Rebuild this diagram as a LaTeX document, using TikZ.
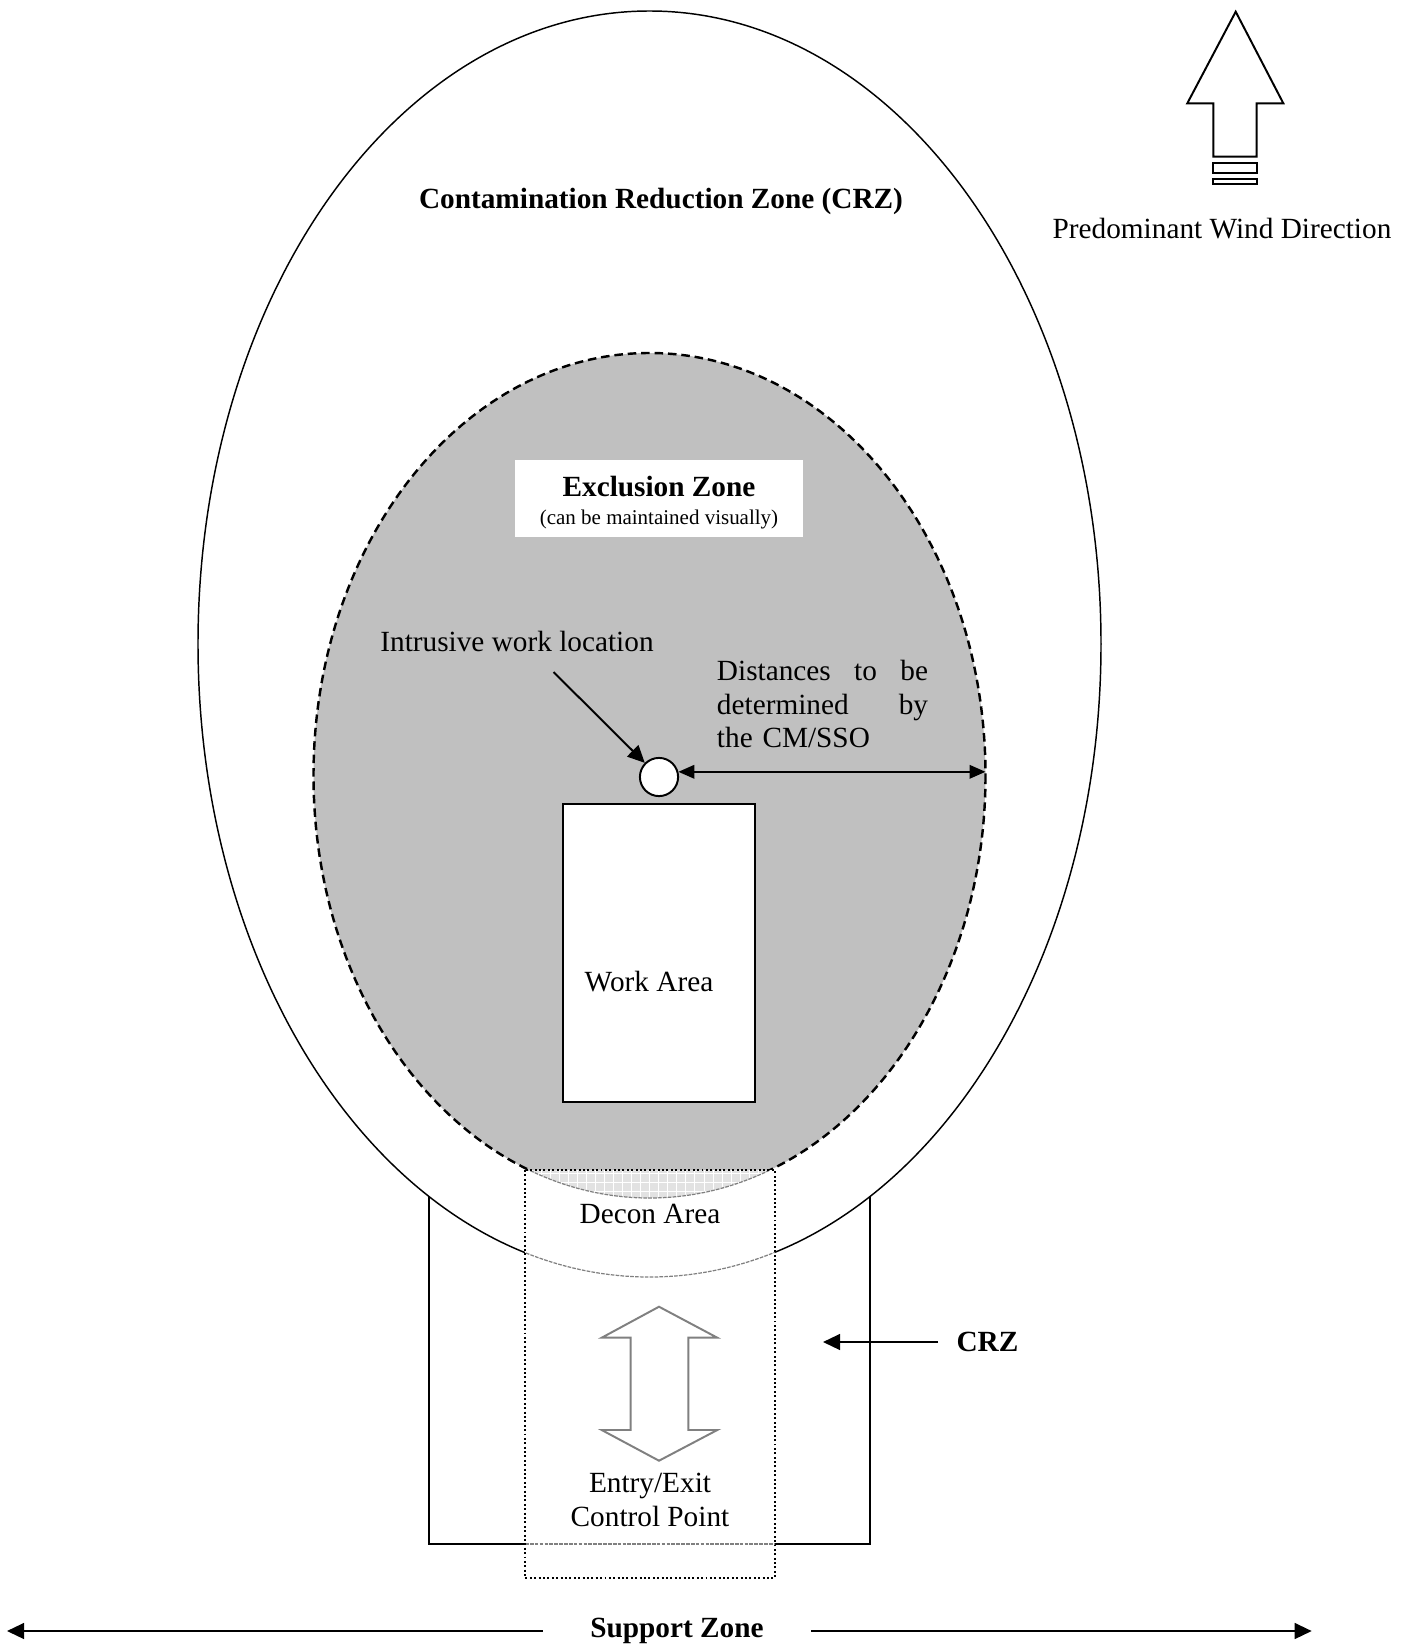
\documentclass[tikz,border=0pt]{standalone}
\usepackage{fontspec}
\setmainfont{Liberation Serif}
\usetikzlibrary{arrows.meta}
\definecolor{exgray}{HTML}{C0C0C0}
\definecolor{decongray}{HTML}{E2E2E2}
\tikzset{
zoneline/.style={draw, line width=0.6pt},
exline/.style={draw, line width=1pt, dash pattern=on 3.5pt off 2pt},
fadeline/.style={draw=gray, line width=0.5pt, dash pattern=on 1.5pt off 0.5pt},
pointer/.style={-{Triangle[length=7pt,width=6.5pt]}, line width=0.8pt},
bothways/.style={{Triangle[length=6.5pt,width=5.5pt]}-{Triangle[length=6.5pt,width=5.5pt]}, line width=0.8pt},
smallnote/.style={font=\fontsize{8.6}{10}\selectfont}
}

\begin{document}
\begin{tikzpicture}[x=0.0144cm, y=-0.0144cm, font=\fontsize{12}{13.9}\selectfont]
	\useasboundingbox (0,0) rectangle (1411,1644);
	\draw[zoneline] (649.5,644) ellipse [x radius=451.5, y radius=633];
	\draw[zoneline] (429,1196) -- (429,1544) -- (870,1544) -- (870,1196);
	\path[fill=exgray, exline] (649.5,775.5) ellipse [x radius=336, y radius=422.5];
	\begin{scope}
		\clip (525,1170) rectangle (775,1578);
		\fill[white] (525,1170) rectangle (775,1578);
		\begin{scope}
			\clip (649.5,775.5) ellipse [x radius=336, y radius=422.5];
			\fill[decongray] (525,1170) rectangle (775,1578);
			\draw[white, line width=0.4pt, step=0.13cm] (525,1170) grid (775,1578);
		\end{scope}
		\path[fadeline] (649.5,775.5) ellipse [x radius=336, y radius=422.5];
		\path[fadeline] (649.5,644) ellipse [x radius=451.5, y radius=633];
		\path[fadeline] (525,1544) -- (775,1544);
	\end{scope}
	\draw[line width=0.8pt, densely dotted] (525,1170) rectangle (775,1578);
	\node[fill=white, minimum width=4.15cm, minimum height=1.11cm] (exz) at (659,498.5) {};
	\node[align=center, inner sep=0pt] (exzlbl) at (659,503)
		{\textbf{Exclusion Zone}\\[-2.5pt]{\fontsize{8.6}{10}\selectfont (can be maintained visually)}};
	\node[draw, fill=white, line width=0.8pt, minimum width=2.765cm, minimum height=4.29cm] (work) at (659,953) {};
	\node (worklbl) at (649,982) {Work Area};
	\node[draw, circle, fill=white, line width=0.8pt, minimum size=0.55cm, inner sep=0pt] (loc) at (659,777) {};
	\node (intr) at (517,641.5) {Intrusive work location};
	\coordinate (intr tail) at (553.5,672);
	\draw[pointer] (intr tail) -- (loc);
	\node[text width=3.04cm, align=left, inner sep=0pt] (dist) at (822.5,704)
		{Distances\hfill to\hfill be\\ determined\hfill by\\ the CM/SSO};
	\coordinate (ex edge) at (985.5,770);
	\draw[bothways] (loc.15) -- (loc.15 -| ex edge);
	\node (crzhead) at (661,201) {\textbf{Contamination Reduction Zone (CRZ)}};
	\draw[line width=0.8pt] (1235.7,11.7) -- (1283.3,103.3) -- (1256.7,103.3) -- (1256.7,156.7)
		-- (1213.3,156.7) -- (1213.3,103.3) -- (1187.3,103.3) -- cycle;
	\draw[line width=0.8pt] (1213.3,162.7) rectangle (1256.7,173.3);
	\draw[line width=0.8pt] (1213.3,179.3) rectangle (1256.7,184.3);
	\node (wind) at (1222,228.5) {Predominant Wind Direction};
	\draw[gray, line width=0.8pt] (659,1306.7) -- (717.3,1337.7) -- (688.3,1337.7) -- (688.3,1430)
		-- (717.3,1430) -- (659,1460.7) -- (601.7,1430) -- (630.7,1430) -- (630.7,1337.7)
		-- (601.7,1337.7) -- cycle;
	\node (decon) at (650,1214) {Decon Area};
	\node[align=center] (entry) at (650,1500) {Entry/Exit\\Control Point};
	\node[inner xsep=0.26cm] (crz) at (987.5,1342) {\textbf{CRZ}};
	\coordinate (crz tip) at (823,1342);
	\draw[pointer] (crz) -- (crz tip);
	\node[inner xsep=0.68cm] (support) at (677,1631) {\textbf{Support Zone}};
	\coordinate (sz west) at (7,1631);
	\coordinate (sz east) at (1311.7,1631);
	\draw[pointer] (support) -- (sz west);
	\draw[pointer] (support) -- (sz east);
\end{tikzpicture}
\end{document}
